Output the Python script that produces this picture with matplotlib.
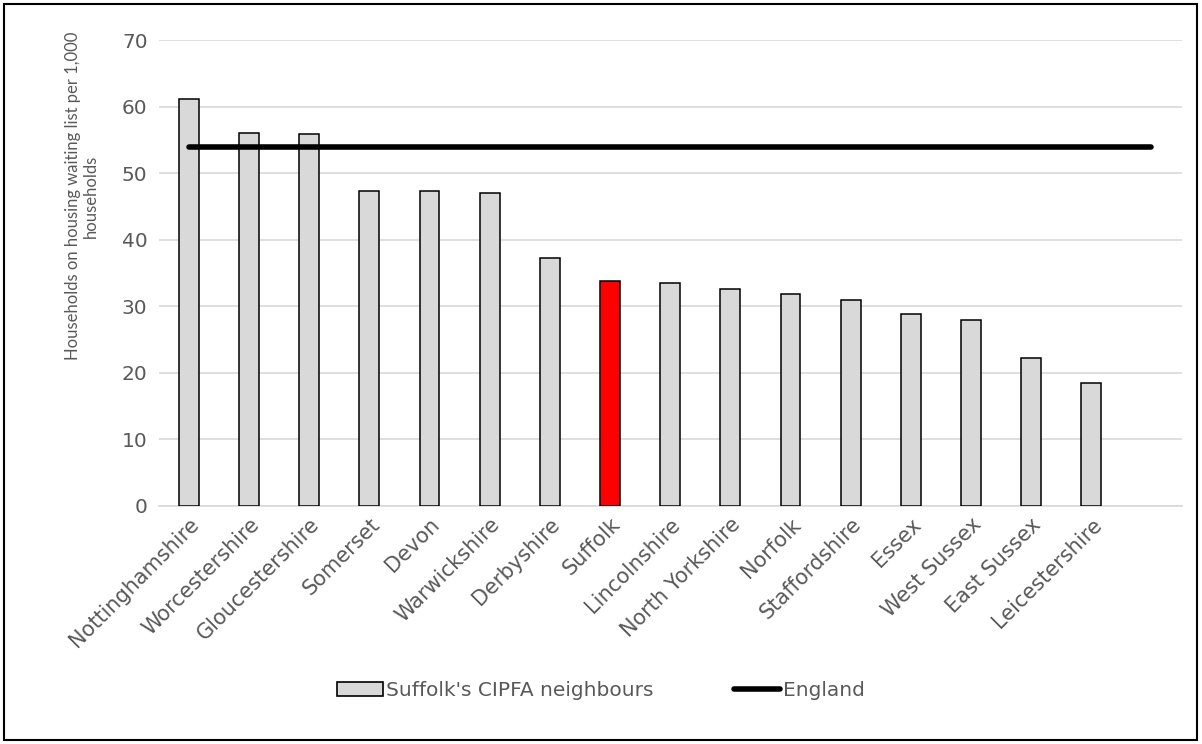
import matplotlib
matplotlib.use("Agg")
import matplotlib.pyplot as plt
from matplotlib.patches import Rectangle
from matplotlib.lines import Line2D

plt.rcParams['font.family'] = ['DejaVu Sans']

areas = ["Nottinghamshire", "Worcestershire", "Gloucestershire", "Somerset", "Devon",
         "Warwickshire", "Derbyshire", "Suffolk", "Lincolnshire", "North Yorkshire",
         "Norfolk", "Staffordshire", "Essex", "West Sussex", "East Sussex", "Leicestershire", ""]
rates = [61.1, 56.0, 55.9, 47.3, 47.3, 47.0, 37.3, 33.8, 33.5, 32.6, 31.9, 31.0,
         28.9, 27.9, 22.3, 18.5]
england = 53.9
highlight = "Suffolk"

grey = "#d9d9d9"
text_col = "#595959"

fig = plt.figure(figsize=(12.02, 7.44), dpi=100)
ax = fig.add_axes([0.132, 0.32, 0.851, 0.626])

x = list(range(len(areas)))
colors = ["#ff0000" if a == highlight else grey for a in areas[:len(rates)]]
ax.bar(x[:len(rates)], rates, width=0.33, color=colors, edgecolor="black",
       linewidth=1.1, zorder=3)
ax.plot([x[0], x[-1]], [england, england], color="black", linewidth=4,
        solid_capstyle="round", zorder=4)

ax.set_xlim(-0.5, len(areas) - 0.5)
ax.set_ylim(0, 70)
ax.set_yticks(range(0, 71, 10))
ax.yaxis.grid(True, color=grey, linewidth=1.2, zorder=0)
ax.set_axisbelow(True)
for s in ["top", "right", "left"]:
    ax.spines[s].set_visible(False)
ax.spines["bottom"].set_color(grey)
ax.spines["bottom"].set_linewidth(1.2)
ax.tick_params(axis="both", length=0, colors=text_col)
ax.tick_params(axis="y", labelsize=14.5, pad=8)
ax.set_xticks(x)
ax.set_xticklabels(areas, rotation=45, ha="right", rotation_mode="anchor", fontsize=15)
ax.tick_params(axis="x", pad=6)

ax.set_ylabel("Households on housing waiting list per 1,000\nhouseholds",
              color=text_col, fontsize=12, linespacing=1.2,
              family=["Lato", "DejaVu Sans"])
ax.yaxis.set_label_coords(-0.058, 0.665)

handles = [Rectangle((0, 0), 1, 1, facecolor=grey, edgecolor="black", linewidth=1.2),
           Line2D([], [], color="black", linewidth=4, solid_capstyle="round")]
leg = fig.legend(handles, ["Suffolk's CIPFA neighbours", "England"], loc="center",
                 bbox_to_anchor=(0.50, 0.072), ncol=2, frameon=False, fontsize=14.5,
                 handlelength=2.3, handleheight=0.7, handletextpad=0.15,
                 columnspacing=4.0)
for t in leg.get_texts():
    t.set_color(text_col)

fig.patches.append(Rectangle((0.003, 0.005), 0.993, 0.99, transform=fig.transFigure,
                             fill=False, edgecolor="black", linewidth=1.5))

fig.savefig("out.png", dpi=100)
